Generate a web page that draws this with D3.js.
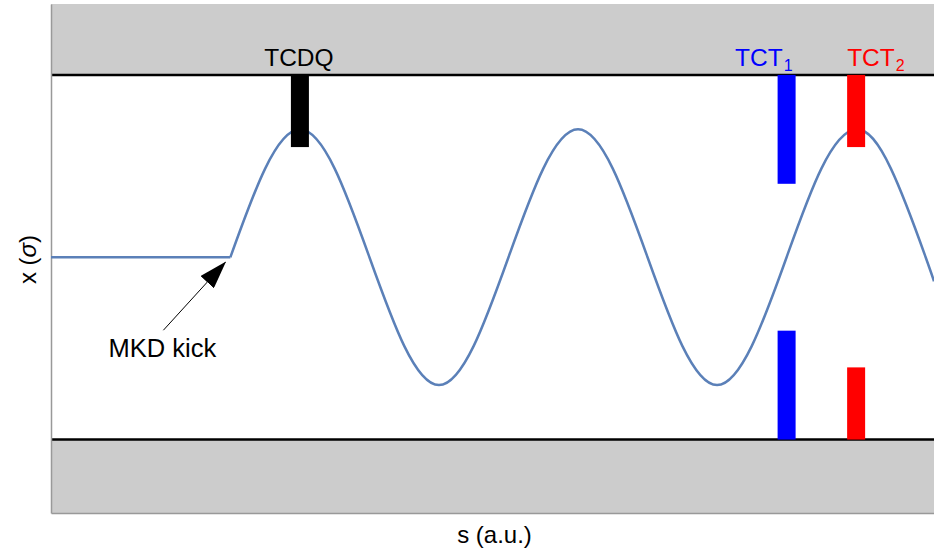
<!DOCTYPE html>
<html>
<head>
<meta charset="utf-8">
<script src="https://cdn.jsdelivr.net/npm/d3@7"></script>
<style>
  html, body { margin: 0; padding: 0; background: #fff; }
  svg { display: block; font-family: "Liberation Sans", Arial, Helvetica, sans-serif; }
</style>
</head>
<body>
<svg id="chart" width="934" height="550"></svg>
<script>
// ---- data ----
const sDomain = [-2.58, 10.12];          // s (a.u.)
const xDomain = [-10.1, 10.0];           // x (sigma)
const aperture = 7.2;                    // aperture limit (sigma)

// orbit before the kick (flat) and after the kick (oscillation)
const flatS = [-2.58, 0];
const flatX = [0, 0];
const oscS = [0, 0.5, 1, 1.5, 2, 2.5, 3, 3.5, 4, 4.5, 5, 5.5, 6, 6.5, 7, 7.5, 8, 8.5, 9, 9.5, 10, 10.12];
const oscX = [0, 3.5, 5.05, 3.5, 0, -3.5, -5.05, -3.5, 0, 3.5, 5.05, 3.5, 0, -3.5, -5.05, -3.5, 0, 3.5, 5.05, 3.5, 0, -0.95];

// collimators
const colNames = ["TCDQ", "TCT", "TCT"];
const colSubs = ["", "1", "2"];
const colS = [1, 8, 9];
const colUpper = [4.35, 2.9, 4.35];
const colLower = [null, -2.9, -4.35];
const colColors = ["#000000", "#0000ff", "#ff0000"];

const kickLabel = "MKD kick";
const xLabel = "s (a.u.)";
const yLabelMain = "x (";
const yLabelSym = "σ";
const yLabelEnd = ")";

// ---- drawing ----
const svg = d3.select("#chart");
const plot = { left: 51, right: 934, top: 4, bottom: 513 };

const sx = d3.scaleLinear().domain(sDomain).range([plot.left, plot.right]);
const sy = d3.scaleLinear().domain(xDomain).range([plot.bottom, plot.top]);

// gray regions outside aperture
svg.append("rect")
  .attr("x", plot.left).attr("width", plot.right - plot.left)
  .attr("y", sy(xDomain[1])).attr("height", sy(aperture) - sy(xDomain[1]))
  .attr("fill", "#cccccc");
svg.append("rect")
  .attr("x", plot.left).attr("width", plot.right - plot.left)
  .attr("y", sy(-aperture)).attr("height", sy(xDomain[0]) - sy(-aperture))
  .attr("fill", "#cccccc");

// aperture lines
[aperture, -aperture].forEach(a => {
  svg.append("line")
    .attr("x1", plot.left).attr("x2", plot.right)
    .attr("y1", sy(a)).attr("y2", sy(a))
    .attr("stroke", "#000").attr("stroke-width", 2.5);
});

// axes (no ticks)
const xAxis = d3.axisBottom(sx).tickValues([]).tickSizeOuter(0);
const yAxis = d3.axisLeft(sy).tickValues([]).tickSizeOuter(0);
svg.append("g").attr("transform", `translate(0,${plot.bottom})`).call(xAxis)
  .select(".domain").attr("stroke", "#999").attr("stroke-width", 1.5);
svg.append("g").attr("transform", `translate(${plot.left},0)`).call(yAxis)
  .select(".domain").attr("stroke", "#999").attr("stroke-width", 1.5);

// orbit
const flatData = flatS.map((s, i) => [s, flatX[i]]);
const oscData = oscS.map((s, i) => [s, oscX[i]]);
const lineLin = d3.line().x(d => sx(d[0])).y(d => sy(d[1])).curve(d3.curveLinear);
const lineSmooth = d3.line().x(d => sx(d[0])).y(d => sy(d[1])).curve(d3.curveNatural);
svg.append("path").datum(flatData).attr("d", lineLin)
  .attr("fill", "none").attr("stroke", "#5b80b8").attr("stroke-width", 2.5);
svg.append("path").datum(oscData).attr("d", lineSmooth)
  .attr("fill", "none").attr("stroke", "#5b80b8").attr("stroke-width", 2.5);

// collimator jaws
const barW = 18;
colS.forEach((s, i) => {
  const cx = sx(s);
  svg.append("rect")
    .attr("x", cx - barW / 2).attr("width", barW)
    .attr("y", sy(aperture)).attr("height", sy(colUpper[i]) - sy(aperture))
    .attr("fill", colColors[i]);
  if (colLower[i] !== null) {
    svg.append("rect")
      .attr("x", cx - barW / 2).attr("width", barW)
      .attr("y", sy(colLower[i])).attr("height", sy(-aperture) - sy(colLower[i]))
      .attr("fill", colColors[i]);
  }
});

// collimator labels
const labelAnchor = ["middle", "end", "start"];
const labelDx = [-1, barW / 2 - 3, -barW / 2];
colS.forEach((s, i) => {
  const t = svg.append("text")
    .attr("x", sx(s) + labelDx[i]).attr("y", sy(aperture) - 9)
    .attr("text-anchor", labelAnchor[i])
    .attr("font-size", 24.5).attr("fill", colColors[i])
    .text(colNames[i]);
  if (colSubs[i]) {
    t.append("tspan").attr("font-size", 16).attr("dx", 1).attr("dy", 5).text(colSubs[i]);
  }
});

// MKD kick annotation
const defs = svg.append("defs");
defs.append("marker")
  .attr("id", "arrowhead").attr("viewBox", "0 0 28 18")
  .attr("refX", 27).attr("refY", 9)
  .attr("markerWidth", 28).attr("markerHeight", 18)
  .attr("markerUnits", "userSpaceOnUse").attr("orient", "auto")
  .append("path").attr("d", "M0,0 L28,9 L0,18 Z").attr("fill", "#000");

const kx = sx(0), ky = sy(0);
svg.append("line")
  .attr("x1", kx - 67).attr("y1", ky + 73)
  .attr("x2", kx - 5).attr("y2", ky + 5)
  .attr("stroke", "#000").attr("stroke-width", 1)
  .attr("marker-end", "url(#arrowhead)");
svg.append("text")
  .attr("x", kx - 68).attr("y", ky + 100)
  .attr("text-anchor", "middle").attr("font-size", 25.5)
  .text(kickLabel);

// axis labels
svg.append("text")
  .attr("x", (plot.left + plot.right) / 2 + 2).attr("y", 543)
  .attr("text-anchor", "middle").attr("font-size", 24)
  .text(xLabel);
const yl = svg.append("text")
  .attr("transform", `translate(36,${(plot.top + plot.bottom) / 2 + 1}) rotate(-90)`)
  .attr("text-anchor", "middle").attr("font-size", 24);
yl.append("tspan").text(yLabelMain);
yl.append("tspan").attr("font-style", "italic").text(yLabelSym);
yl.append("tspan").text(yLabelEnd);
</script>
</body>
</html>
